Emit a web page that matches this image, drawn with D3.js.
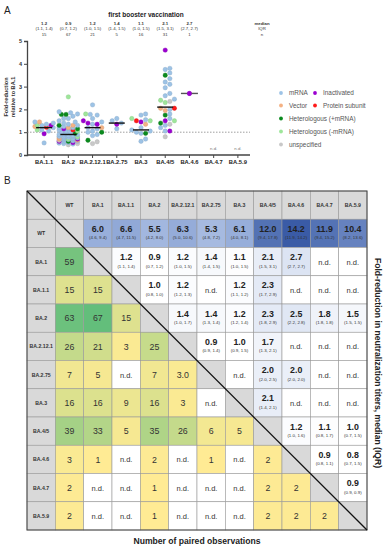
<!DOCTYPE html>
<html>
<head>
<meta charset="utf-8">
<script src="https://cdn.jsdelivr.net/npm/d3@7"></script>
<style>
  body { margin: 0; background: #fff; }
  svg { display: block; font-family: "Liberation Sans", Arial, sans-serif; }
</style>
</head>
<body>
<div id="chart"></div>
<script>
// ---------- panel A data ----------
const catsA = ["BA.1.1", "BA.2", "BA.2.12.1", "BA.2.75", "BA.3", "BA.4/5", "BA.4.6", "BA.4.7", "BA.5.9"];
const medians = [1.2, 0.9, 1.2, 1.4, 1.1, 2.1, 2.7];
const iqrs = ["(1.1, 1.4)", "(0.7, 1.2)", "(1.0, 1.5)", "(1.4, 1.5)", "(1.0, 1.5)", "(1.5, 3.1)", "(2.7, 2.7)"];
const counts = [15, 67, 21, 5, 16, 31, 1];

// points per variant, keyed by vaccine type
const ptsBA11 = {
  m: [1.45, 1.4, 1.35, 1.3, 1.2, 1.1, 1.05, 0.53],
  v: [1.45, 1.25], i: [1.3, 0.93], p: [1.22], hm: [1.1, 1.3]
};
const ptsBA2 = {
  m: [1.9, 1.85, 1.8, 1.7, 1.6, 1.6, 1.5, 1.45, 1.4, 1.35, 1.3, 1.25, 1.2, 1.2, 1.15, 1.1, 1.05, 1.0, 1.0, 0.95,
      0.95, 0.9, 0.9, 0.88, 0.85, 0.85, 0.82, 0.8, 0.8, 0.78, 0.75, 0.75, 0.72, 0.7, 0.7, 0.68, 0.65, 0.62, 0.6,
      0.58, 0.55, 0.52, 0.5, 0.48],
  hm: [2.55, 1.05, 0.8, 0.7], hp: [1.78, 1.78, 1.3, 1.15, 0.95, 0.6],
  v: [1.3, 1.2, 0.75, 0.7, 0.65], p: [1.1], i: [1.15, 0.6, 0.55, 0.7], u: [0.5, 0.45, 0.65]
};
const ptsBA2121 = {
  m: [2.2, 1.78, 1.75, 1.6, 1.45, 1.35, 1.2, 1.15, 1.05, 1.0, 0.9, 0.85],
  hm: [1.8], i: [1.5, 1.4, 1.35], hp: [1.0, 0.65], u: [0.5, 0.58], v: [1.2]
};
const ptsBA275 = { m: [1.6, 1.5, 1.4, 1.15], i: [1.35] };
const ptsBA3 = {
  m: [1.8, 1.75, 1.55, 1.2, 1.1, 1.05, 1.0, 0.95, 0.7, 0.6],
  hm: [1.6, 1.5], v: [1.35], p: [1.5], i: [1.45], hp: [0.95]
};
const ptsBA45 = {
  m: [3.8, 3.75, 3.6, 3.35, 3.2, 3.1, 2.95, 2.7, 2.6, 2.45, 2.0, 1.8, 1.6, 1.3, 1.2, 1.05],
  i: [4.6, 1.5, 1.05], hp: [3.5, 1.75, 1.4], v: [2.05, 1.95], p: [2.05],
  hm: [2.4, 2.3, 1.5], u: [2.35, 1.35, 0.8]
};
const ptsBA46 = { i: [2.7] };
const ptsByCat = [ptsBA11, ptsBA2, ptsBA2121, ptsBA275, ptsBA3, ptsBA45, ptsBA46, {}, {}];

const types = ["m", "i", "v", "p", "hp", "hm", "u"];
const typeNames = ["mRNA", "Inactivated", "Vector", "Protein subunit", "Heterologous (+mRNA)", "Heterologous (-mRNA)", "unspecified"];
const typeColors = ["#9dc3e6", "#9b00d0", "#f4b183", "#ff1a1a", "#0a8a1e", "#9ee69a", "#c8c8c8"];

// ---------- panel B data ----------
const variants = ["WT", "BA.1", "BA.1.1", "BA.2", "BA.2.12.1", "BA.2.75", "BA.3", "BA.4/5", "BA.4.6", "BA.4.7", "BA.5.9"];
// upper triangle: [median, "IQR"]; lower triangle: count; null = n.d.; "x" = diagonal
const rowWT = ["x", [6.0, "4.6, 9.4"], [6.6, "4.7, 11.5"], [5.5, "4.2, 8.0"], [6.3, "5.0, 10.6"], [5.3, "4.8, 7.2"], [6.1, "4.0, 8.1"], [12.0, "9.4, 17.8"], [14.2, "11.9, 14.2"], [11.9, "9.4, 15.2"], [10.4, "8.2, 13.6"]];
const rowBA1 = [59, "x", [1.2, "1.1, 1.4"], [0.9, "0.7, 1.2"], [1.2, "1.0, 1.5"], [1.4, "1.4, 1.5"], [1.1, "1.0, 1.5"], [2.1, "1.5, 3.1"], [2.7, "2.7, 2.7"], null, null];
const rowBA11 = [15, 15, "x", [1.0, "0.8, 1.0"], [1.2, "1.2, 1.3"], null, [1.2, "1.1, 1.2"], [2.3, "1.7, 2.9"], null, null, null];
const rowBA2 = [63, 67, 15, "x", [1.4, "1.0, 1.7"], [1.4, "1.3, 1.4"], [1.2, "1.2, 1.4"], [2.3, "1.8, 2.9"], [2.5, "2.2, 2.8"], [1.8, "1.8, 1.8"], [1.5, "1.5, 1.5"]];
const rowBA2121 = [26, 21, 3, 25, "x", [0.9, "0.9, 1.4"], [1.0, "0.9, 1.5"], [1.7, "1.3, 2.1"], null, null, null];
const rowBA275 = [7, 5, null, 7, "3.0", "x", null, [2.0, "2.0, 2.5"], [2.0, "2.0, 2.0"], null, null];
const rowBA3 = [16, 16, 9, 16, 3, null, "x", [2.1, "1.4, 2.1"], null, null, null];
const rowBA45 = [39, 33, 5, 35, 26, 6, 5, "x", [1.2, "1.0, 1.6"], [1.1, "0.8, 1.7"], [1.0, "0.7, 1.5"]];
const rowBA46 = [3, 1, null, 2, null, 1, null, 2, "x", [0.9, "0.8, 1.1"], [0.8, "0.7, 1.5"]];
const rowBA47 = [2, null, null, 1, null, null, null, 2, 2, "x", [0.9, "0.9, 0.9"]];
const rowBA59 = [2, null, null, 1, null, null, null, 2, 2, 2, "x"];
const tableRows = [rowWT, rowBA1, rowBA11, rowBA2, rowBA2121, rowBA275, rowBA3, rowBA45, rowBA46, rowBA47, rowBA59];

// ---------- drawing ----------
const W = 384, H = 550;
const svg = d3.select("#chart").append("svg").attr("width", W).attr("height", H);

// ===== Panel A =====
const xA = d3.scaleBand().domain(catsA).range([32, 250]);
const yA = d3.scaleLinear().domain([0, 5]).range([155, 41]);
const cx = c => xA(c) + xA.bandwidth() / 2;

svg.append("text").attr("x", 4).attr("y", 14).attr("font-size", 10).attr("fill", "#222").text("A");
svg.append("text").attr("x", 146).attr("y", 17).attr("text-anchor", "middle")
  .attr("font-size", 6.5).attr("font-weight", "bold").attr("fill", "#222").text("first booster vaccination");

const head = svg.append("g").attr("font-size", 4.3).attr("text-anchor", "middle").attr("fill", "#333");
medians.forEach((m, i) => {
  const x = cx(catsA[i]);
  head.append("text").attr("x", x).attr("y", 24.5).attr("font-weight", "bold").text(m.toFixed(1));
  head.append("text").attr("x", x).attr("y", 30).text(iqrs[i]);
  head.append("text").attr("x", x).attr("y", 35.5).text(counts[i]);
});
head.append("text").attr("x", 262).attr("y", 24.5).attr("font-weight", "bold").text("median");
head.append("text").attr("x", 262).attr("y", 30).text("IQR");
head.append("text").attr("x", 262).attr("y", 35.5).text("n");

// axes
const gy = svg.append("g").attr("transform", "translate(27,0)")
  .call(d3.axisLeft(yA).ticks(5).tickSize(3).tickPadding(2).tickFormat(d3.format("d")));
gy.select(".domain").attr("stroke", "#444").attr("stroke-width", 1.3);
gy.selectAll(".tick line").attr("stroke", "#444").attr("stroke-width", 1);
gy.selectAll(".tick text").attr("font-size", 5.5).attr("font-weight", "bold").attr("fill", "#333");

const gx = svg.append("g").attr("transform", "translate(0,155)")
  .call(d3.axisBottom(xA).tickSize(3).tickPadding(2).tickSizeOuter(0));
gx.select(".domain").attr("d", "M27,0H250").attr("stroke", "#444").attr("stroke-width", 1.3);
gx.selectAll(".tick line").attr("stroke", "#444").attr("stroke-width", 1);
gx.selectAll(".tick text").attr("font-size", 5.8).attr("font-weight", "bold").attr("fill", "#222");

svg.append("line").attr("x1", 27).attr("x2", 250).attr("y1", yA(1)).attr("y2", yA(1))
  .attr("stroke", "#777").attr("stroke-width", 0.7).attr("stroke-dasharray", "1.5,1.5");

const ylab = svg.append("g").attr("transform", "translate(0,97) rotate(-90)")
  .attr("text-anchor", "middle").attr("font-size", 5.6).attr("font-weight", "bold").attr("fill", "#333");
ylab.append("text").attr("x", 0).attr("y", 8).text("Fold-reduction");
ylab.append("text").attr("x", 0).attr("y", 14.5).text("relative to BA.1");

// beeswarm-style dodge so points don't overlap
const r = 2.2;
function dodge(items) {
  const placed = [];
  items.sort((a, b) => a.v - b.v);
  items.forEach(p => {
    const y = yA(p.v);
    let best = 0, bestOv = Infinity;
    for (let k = 0; k < 17; k++) {
      const off = (k % 2 ? 1 : -1) * Math.ceil(k / 2) * 2.3;
      if (Math.abs(off) > 10) break;
      let ov = 0;
      placed.forEach(q => {
        const d = Math.hypot(off - q.off, y - q.y);
        if (d < 2 * r * 0.95) ov += 2 * r - d;
      });
      if (ov === 0) { best = off; bestOv = 0; break; }
      if (ov < bestOv) { bestOv = ov; best = off; }
    }
    p.off = best; p.y = y;
    placed.push(p);
  });
  return items;
}

const pts = svg.append("g");
catsA.forEach((c, ci) => {
  const set = ptsByCat[ci];
  const items = [];
  types.forEach((t, ti) => (set[t] || []).forEach(v => items.push({ v, ti })));
  dodge(items);
  pts.selectAll(null).data(items).join("circle")
    .attr("cx", d => cx(c) + d.off).attr("cy", d => d.y).attr("r", r)
    .attr("fill", d => typeColors[d.ti])
    .attr("stroke", d => d3.color(typeColors[d.ti]).darker(0.4)).attr("stroke-width", 0.4);
});

// median bars
medians.forEach((m, i) => {
  const single = counts[i] === 1;
  svg.append("line").attr("x1", cx(catsA[i]) - (single ? 8.5 : 8)).attr("x2", cx(catsA[i]) + (single ? 8.5 : 8))
    .attr("y1", yA(m)).attr("y2", yA(m))
    .attr("stroke", single ? "#555" : "#111").attr("stroke-width", 1.4);
});
// re-draw the single point on top of its bar
svg.append("circle").attr("cx", cx("BA.4.6")).attr("cy", yA(ptsBA46.i[0])).attr("r", r).attr("fill", typeColors[1]);

["BA.4.7", "BA.5.9"].forEach(c => {
  svg.append("text").attr("x", cx(c)).attr("y", 149.5).attr("text-anchor", "middle")
    .attr("font-size", 4.3).attr("fill", "#777").text("n.d.");
});

// legend
const legPos = [[281, 93], [315, 93], [281, 105.5], [315, 105.5], [281, 118.5], [281, 131.5], [281, 144.5]];
const leg = svg.append("g");
typeNames.forEach((n, i) => {
  const [lx, ly] = legPos[i];
  leg.append("circle").attr("cx", lx).attr("cy", ly).attr("r", 1.9).attr("fill", typeColors[i]);
  leg.append("text").attr("x", lx + 8).attr("y", ly + 2.2).attr("font-size", 6.4).attr("fill", "#555").text(n);
});

// ===== Panel B =====
svg.append("text").attr("x", 4).attr("y", 184).attr("font-size", 10).attr("fill", "#222").text("B");

const n = variants.length + 1;
const xB = d3.scaleLinear().domain([0, n]).range([27, 367]);
const yB = d3.scaleLinear().domain([0, n]).range([191, 530]);
const cw = xB(1) - xB(0), ch = yB(1) - yB(0);

const blue = d3.scaleLinear().domain([1, 6, 14.2]).range(["#ffffff", "#98afdb", "#3a5ba6"]).clamp(true);
const green = d3.scaleLinear().domain([1, 67]).range(["#ffeb94", "#63be7b"]).clamp(true);

const cells = [];
for (let r0 = 0; r0 < n; r0++) {
  for (let c0 = 0; c0 < n; c0++) {
    let kind, val = null;
    if (r0 === 0 || c0 === 0) kind = "head";
    else {
      val = tableRows[r0 - 1][c0 - 1];
      if (val === "x") kind = "diag";
      else if (val === null) kind = "nd";
      else if (Array.isArray(val)) kind = "fold";
      else kind = "count";
    }
    cells.push({ r: r0, c: c0, kind, val });
  }
}
const fillOf = d => d.kind === "head" || d.kind === "diag" ? "#d9d9d9"
  : d.kind === "nd" ? "#ffffff"
  : d.kind === "fold" ? blue(d.val[0]) : green(+d.val);

const gB = svg.append("g");
gB.selectAll("rect").data(cells).join("rect")
  .attr("x", d => xB(d.c)).attr("y", d => yB(d.r)).attr("width", cw).attr("height", ch)
  .attr("fill", fillOf).attr("stroke", "#9a9a9a").attr("stroke-width", 0.6);

gB.append("rect").attr("x", xB(0)).attr("y", yB(0)).attr("width", xB(n) - xB(0)).attr("height", yB(n) - yB(0))
  .attr("fill", "none").attr("stroke", "#444").attr("stroke-width", 1);

gB.append("line").attr("x1", xB(0)).attr("y1", yB(0)).attr("x2", xB(n)).attr("y2", yB(n))
  .attr("stroke", "#111").attr("stroke-width", 1.3);

const tB = gB.append("g").attr("text-anchor", "middle");
cells.forEach(d => {
  const mx = xB(d.c) + cw / 2, my = yB(d.r) + ch / 2;
  if (d.kind === "head") {
    const lab = d.r === 0 ? (d.c > 0 ? variants[d.c - 1] : "") : variants[d.r - 1];
    tB.append("text").attr("x", mx).attr("y", my + 2).attr("font-size", 5.2).attr("font-weight", "bold")
      .attr("fill", "#333").text(lab);
  } else if (d.kind === "nd") {
    tB.append("text").attr("x", mx).attr("y", my + 3).attr("font-size", 7.5).attr("fill", "#333").text("n.d.");
  } else if (d.kind === "count") {
    tB.append("text").attr("x", mx).attr("y", my + 3.2).attr("font-size", 8.8).attr("fill", "#333").text(d.val);
  } else if (d.kind === "fold") {
    tB.append("text").attr("x", mx).attr("y", my - 1.6).attr("font-size", 8.8).attr("font-weight", "bold")
      .attr("fill", "#222").text(d.val[0].toFixed(1));
    tB.append("text").attr("x", mx).attr("y", my + 6).attr("font-size", 4.4).attr("fill", "#333")
      .text("(" + d.val[1] + ")");
  }
});

svg.append("text").attr("transform", "translate(375,363) rotate(90)").attr("text-anchor", "middle")
  .attr("font-size", 8.6).attr("font-weight", "bold").attr("fill", "#222")
  .text("Fold-reduction in neutralization titers, median (IQR)");

svg.append("text").attr("x", 197).attr("y", 544).attr("text-anchor", "middle")
  .attr("font-size", 8.6).attr("font-weight", "bold").attr("fill", "#222")
  .text("Number of paired observations");
</script>
</body>
</html>
